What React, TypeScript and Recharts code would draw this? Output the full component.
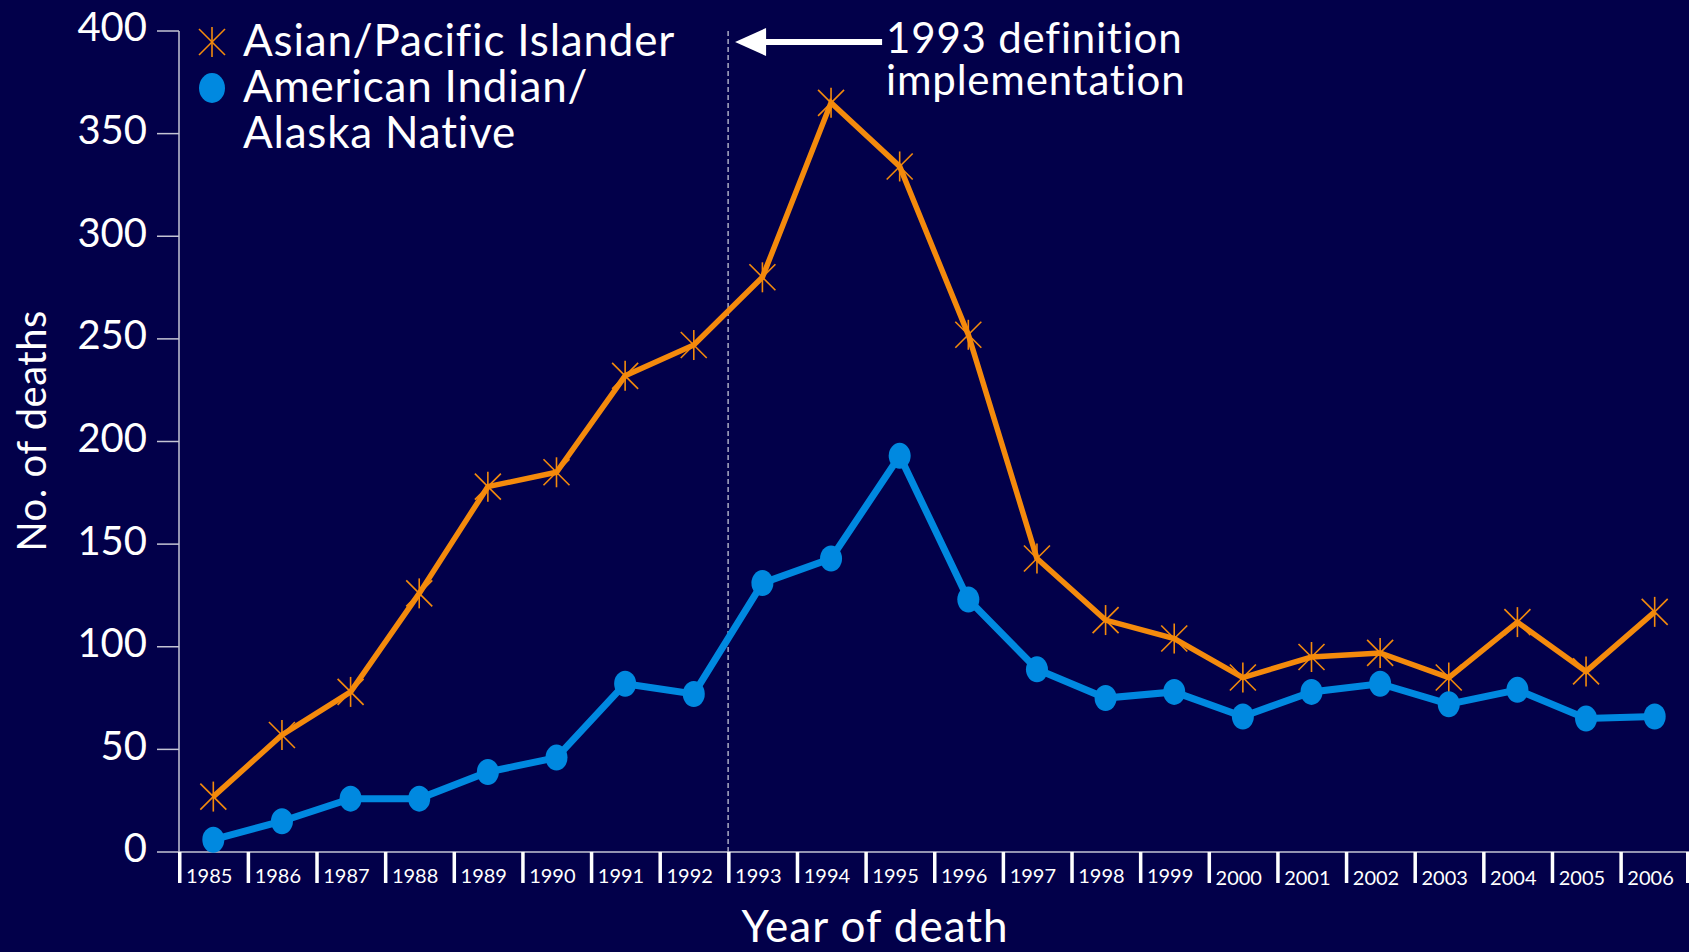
import { LineChart, Line, XAxis, YAxis, ReferenceLine, Label } from "recharts";

const years = [
  1985, 1986, 1987, 1988, 1989, 1990, 1991, 1992, 1993, 1994, 1995,
  1996, 1997, 1998, 1999, 2000, 2001, 2002, 2003, 2004, 2005, 2006,
];
const asianPacific = [27, 57, 78, 126, 178, 185, 232, 247, 280, 365, 334, 252, 143, 113, 104, 85, 95, 97, 85, 112, 88, 117];
const americanIndian = [6, 15, 26, 26, 39, 46, 82, 77, 131, 143, 193, 123, 89, 75, 78, 66, 78, 82, 72, 79, 65, 66];
const yTicks = [0, 50, 100, 150, 200, 250, 300, 350, 400];
const definitionYear = 1992.5;

const data = years.map((year, i) => ({
  year,
  asian: asianPacific[i],
  aian: americanIndian[i],
}));

const CHART_W = 1689;
const CHART_H = 952;
const Y_AXIS_W = 179;
const X_AXIS_H = 100;
const BAND = (CHART_W - Y_AXIS_W) / years.length;

const BG = "#02004a";
const ORANGE = "#f48a0c";
const BLUE = "#0089e0";
const AXIS = "#c4c4d4";
const FONT = "Lato, 'Open Sans', sans-serif";

// six-pointed star marker (X plus a vertical stroke)
const Asterisk = ({ cx, cy }: any) => (
  <g stroke={ORANGE} strokeWidth={1.6}>
    <line x1={cx} y1={cy - 15} x2={cx} y2={cy + 15} />
    <line x1={cx - 13} y1={cy - 13} x2={cx + 13} y2={cy + 13} />
    <line x1={cx - 13} y1={cy + 13} x2={cx + 13} y2={cy - 13} />
  </g>
);

const Dot = ({ cx, cy }: any) => <ellipse cx={cx} cy={cy} rx={11} ry={13} fill={BLUE} />;

const YearTick = ({ x, y, payload, index }: any) => (
  <g>
    <rect x={x - BAND / 2 - 1} y={y} width={3.5} height={31} fill="#fff" />
    {index === years.length - 1 && (
      <rect x={x + BAND / 2 - 3} y={y} width={3.5} height={31} fill="#fff" />
    )}
    <text
      x={x - BAND / 2 + 7}
      y={y + 31 + (payload.value >= 2000 ? 2 : 0)}
      fontSize={20}
      fill="#fff"
      fontFamily={FONT}
    >
      {payload.value}
    </text>
  </g>
);

const CountTick = ({ x, y, payload }: any) => (
  <text x={x} y={y - 4} dy="0.36em" textAnchor="end" fontSize={40} fill="#fff" fontFamily={FONT}>
    {payload.value}
  </text>
);

const DefinitionNote = ({ viewBox }: any) => {
  const x0 = viewBox.x;
  const y = viewBox.y + 11;
  return (
    <g>
      <polygon points={`${x0 + 7},${y} ${x0 + 38},${y - 14} ${x0 + 38},${y + 14}`} fill="#fff" />
      <rect x={x0 + 36} y={y - 3} width={118} height={6} fill="#fff" />
      <text x={x0 + 158} y={y + 11} fontSize={42} letterSpacing={0.8} fill="#fff" fontFamily={FONT}>
        1993 definition
      </text>
      <text x={x0 + 158} y={y + 53} fontSize={42} letterSpacing={0.8} fill="#fff" fontFamily={FONT}>
        implementation
      </text>
    </g>
  );
};

export default function App() {
  return (
    <div style={{ position: "relative", width: CHART_W, height: CHART_H, background: BG, overflow: "hidden" }}>
      <style>{`body{margin:0}`}</style>
      <LineChart width={CHART_W} height={CHART_H} data={data} margin={{ top: 31, right: 0, bottom: 0, left: 0 }}>
        <XAxis
          dataKey="year"
          type="number"
          domain={[years[0] - 0.5, years[years.length - 1] + 0.5]}
          ticks={years}
          interval={0}
          height={X_AXIS_H}
          tickSize={0}
          tickMargin={0}
          tickLine={false}
          axisLine={{ stroke: AXIS, strokeWidth: 1.5 }}
          tick={<YearTick />}
        >
          <Label
            content={() => (
              <text x={875} y={942} textAnchor="middle" fontSize={44} letterSpacing={1} fill="#fff" fontFamily={FONT}>
                Year of death
              </text>
            )}
          />
        </XAxis>
        <YAxis
          type="number"
          domain={[0, 400]}
          ticks={yTicks}
          width={Y_AXIS_W}
          tickSize={22}
          tickMargin={10}
          tickLine={{ stroke: AXIS, strokeWidth: 1.5 }}
          axisLine={{ stroke: AXIS, strokeWidth: 1.5 }}
          tick={<CountTick />}
        >
          <Label
            content={() => (
              <text
                x={46}
                y={431}
                transform="rotate(-90 46 431)"
                textAnchor="middle"
                fontSize={40}
                letterSpacing={0.5}
                fill="#fff"
                fontFamily={FONT}
              >
                No. of deaths
              </text>
            )}
          />
        </YAxis>
        <ReferenceLine
          x={definitionYear}
          stroke="#ffffff"
          strokeWidth={1}
          strokeDasharray="5 3"
          label={<DefinitionNote />}
        />
        <Line
          dataKey="asian"
          stroke={ORANGE}
          strokeWidth={5.5}
          dot={<Asterisk />}
          activeDot={false}
          isAnimationActive={false}
        />
        <Line
          dataKey="aian"
          stroke={BLUE}
          strokeWidth={7}
          dot={<Dot />}
          activeDot={false}
          isAnimationActive={false}
        />
      </LineChart>

      <div
        style={{
          position: "absolute",
          left: 196,
          top: 16,
          color: "#fff",
          fontFamily: FONT,
          fontSize: 44,
          letterSpacing: 0.8,
          lineHeight: "46px",
        }}
      >
        <div style={{ display: "flex", alignItems: "flex-start" }}>
          <svg width={32} height={46} style={{ flex: "none" }}>
            <Asterisk cx={16} cy={26} />
          </svg>
          <span style={{ marginLeft: 15 }}>Asian/Pacific Islander</span>
        </div>
        <div style={{ display: "flex", alignItems: "flex-start" }}>
          <svg width={32} height={46} style={{ flex: "none" }}>
            <ellipse cx={16} cy={26} rx={13} ry={15} fill={BLUE} />
          </svg>
          <span style={{ marginLeft: 15 }}>
            American Indian/
            <br />
            Alaska Native
          </span>
        </div>
      </div>
    </div>
  );
}
